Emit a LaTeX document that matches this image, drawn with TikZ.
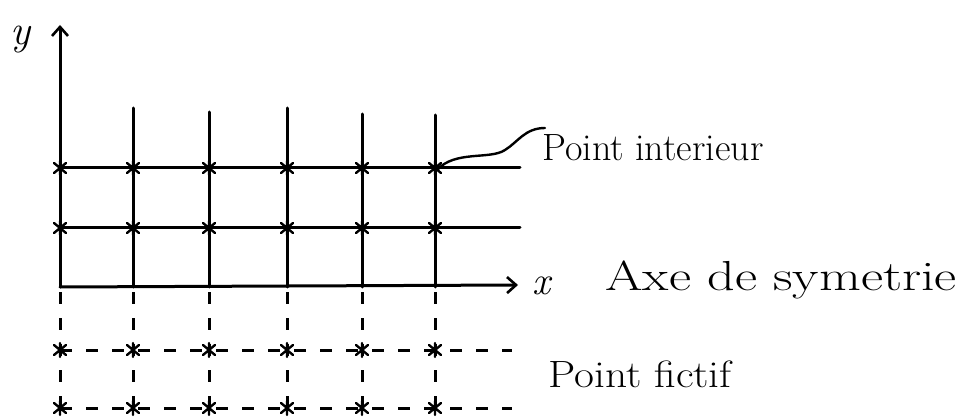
\documentclass[tikz,border=0pt]{standalone}
\usepackage{fontspec}
\usetikzlibrary{arrows.meta}
\begin{document}
\begin{tikzpicture}[x=1pt,y=-1pt,line cap=round,
  solidln/.style={line width=3pt},
  dashln/.style={line width=3pt,dash pattern=on 12pt off 14pt,line cap=butt},
  axisarrow/.style={line width=3pt,-{Straight Barb[length=9pt,width=16pt,line width=2.6pt]}},
  lbl/.style={anchor=west,inner sep=0pt},
  starmark/.style={line width=2.4pt}]
\useasboundingbox (0,0) rectangle (962,417);
% axes
\coordinate (O) at (60,287);
\coordinate (ytip) at (60,25);
\coordinate (xtip) at (518,285);
\draw[axisarrow] (O) -- (ytip);
\draw[axisarrow] (O) -- (xtip);
% solid vertical lines
\foreach \x/\t in {133/108,209/112,287/108,362/114,435/115}
  \draw[solidln] (\x,\t) -- (\x,287);
% solid horizontal lines
\foreach \y in {168,228}
  \draw[solidln] (60,\y) -- (520,\y);
% dashed vertical lines
\foreach \x in {60,133,209,287,362,435}
  \draw[dashln] (\x,292) -- (\x,414);
% dashed horizontal rows
\foreach \y in {350,408}
  \draw[dashln] (60,\y) -- (512,\y);
% star marks
\foreach \x in {60,133,209,287,362,435}
  \foreach \y in {168,228,350,408}
    \draw[starmark] (\x-6,\y-5) -- (\x+6,\y+5) (\x-6,\y+5) -- (\x+6,\y-5) (\x,\y-7) -- (\x,\y+7);
% labels
\node[lbl,font=\fontsize{42}{48}\selectfont\itshape] (ylab) at (10,40) {y};
\node[lbl,font=\fontsize{40}{46}\selectfont\itshape] (xlab) at (532,286) {x};
\node[lbl,font=\fontsize{38}{44}\selectfont] (pint) at (542,148) {Point interieur};
\node[lbl,font=\fontsize{42}{48}\selectfont,xscale=1.29] (axe) at (605,280) {Axe de symetrie};
\node[lbl,font=\fontsize{38}{44}\selectfont,xscale=1.14] (pfic) at (548,374) {Point fictif};
% leader
\coordinate (ip) at (437,170);
\coordinate (lead) at (545,128);
\draw[line width=2.4pt] (ip) .. controls (455,150) and (490,160) .. (505,150)
  .. controls (518,142) and (525,128) .. (lead);
\end{tikzpicture}
\end{document}
